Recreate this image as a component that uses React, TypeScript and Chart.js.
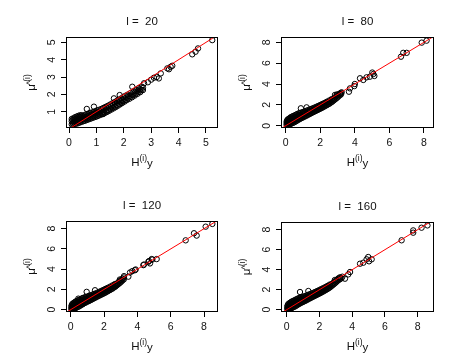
import React, { useEffect, useRef } from 'react';
import { Chart, registerables } from 'chart.js';

Chart.register(...registerables);

const FONT = '"Liberation Sans", Arial, Helvetica, sans-serif';

// ---------- data ----------
const TITLES = ['l =  20', 'l =  80', 'l =  120', 'l =  160'];

const X_TICKS_L20 = [0, 1, 2, 3, 4, 5];
const Y_TICKS_L20 = [1, 2, 3, 4, 5];
const TICKS_0_8 = [0, 2, 4, 6, 8];

const X_RANGE_L20 = [-0.11, 5.44];
const Y_RANGE_L20 = [0.06, 5.31];
const X_RANGE_L80 = [-0.27, 8.58];
const Y_RANGE_L80 = [-0.22, 8.51];
const X_RANGE_L120 = [-0.28, 8.84];
const Y_RANGE_L120 = [-0.23, 8.76];
const X_RANGE_L160 = [-0.35, 9.0];
const Y_RANGE_L160 = [-0.23, 8.77];

// reference line y = x
const IDENTITY_LINE = [-1, 10];

const POINTS_L20 = [
  [0.10,0.27],[0.10,0.45],[0.10,0.58],[0.13,0.33],[0.13,0.52],[0.16,0.28],[0.16,0.41],[0.16,0.62],[0.19,0.36],[0.19,0.55],
  [0.22,0.30],[0.22,0.47],[0.22,0.68],[0.25,0.39],[0.25,0.60],[0.28,0.31],[0.28,0.52],[0.28,0.72],[0.31,0.43],[0.31,0.65],
  [0.34,0.35],[0.34,0.56],[0.34,0.76],[0.37,0.47],[0.37,0.69],[0.40,0.38],[0.40,0.60],[0.40,0.79],[0.43,0.50],[0.43,0.72],
  [0.46,0.42],[0.46,0.63],[0.46,0.80],[0.49,0.54],[0.49,0.74],[0.52,0.45],[0.52,0.66],[0.55,0.57],[0.55,0.78],[0.58,0.48],
  [0.58,0.69],[0.61,0.60],[0.61,0.84],[0.64,0.52],[0.64,0.72],[0.67,0.63],[0.67,0.86],[0.70,0.55],[0.70,0.76],[0.73,0.67],
  [0.73,0.90],[0.76,0.59],[0.76,0.80],[0.79,0.70],[0.79,0.93],[0.82,0.62],[0.82,0.83],[0.85,0.73],[0.85,0.96],[0.88,0.66],
  [0.88,0.86],[0.91,0.77],[0.91,0.99],[0.94,0.69],[0.94,0.90],[0.97,0.80],[0.97,1.03],[1.00,0.72],[1.00,0.93],[1.03,0.84],
  [1.03,1.07],[1.06,0.76],[1.06,0.97],[1.10,0.88],[1.10,1.11],[1.14,0.81],[1.14,1.02],[1.18,0.93],[1.18,1.16],[1.22,0.86],
  [1.22,1.07],[1.26,0.98],[1.26,1.22],[1.30,0.92],[1.30,1.13],[1.34,1.04],[1.34,1.28],[1.38,0.98],[1.38,1.19],[1.42,1.10],
  [1.42,1.34],[1.46,1.05],[1.46,1.25],[1.50,1.17],[1.50,1.41],[1.54,1.12],[1.54,1.32],[1.58,1.24],[1.58,1.48],[1.62,1.19],
  [1.62,1.39],[1.66,1.31],[1.66,1.55],[1.70,1.26],[1.70,1.46],[1.74,1.38],[1.74,1.62],[1.78,1.34],[1.78,1.53],[1.82,1.46],
  [1.82,1.69],[1.86,1.42],[1.86,1.60],[1.90,1.53],[1.90,1.76],[1.94,1.50],[1.94,1.67],[1.98,1.61],[1.98,1.84],[2.02,1.58],
  [2.02,1.75],[2.06,1.69],[2.06,1.92],[2.10,1.66],[2.10,1.83],[2.15,1.77],[2.15,1.99],[2.20,1.74],[2.20,1.91],[2.25,1.86],
  [2.25,2.08],[2.30,1.83],[2.30,2.00],[2.35,1.95],[2.35,2.17],[2.40,1.93],[2.40,2.10],[2.45,2.05],[2.45,2.27],[2.50,2.03],
  [2.50,2.20],[2.55,2.15],[2.55,2.36],[2.60,2.13],[2.60,2.30],[2.65,2.26],[2.65,2.45],[2.70,2.25],[2.70,2.40],
  [0.65,1.16],[0.91,1.29],[1.25,0.87],[1.64,1.77],[1.85,1.96],[2.31,2.44],[2.74,2.64],[2.88,2.70],[3.00,2.85],[3.10,2.96],
  [3.20,3.00],[3.28,2.92],[3.35,3.21],[3.59,3.50],[3.65,3.45],[3.71,3.59],[3.77,3.65],[4.50,4.31],[4.62,4.46],[4.71,4.65],[5.23,5.13],
];

const POINTS_L80 = [
  [0.05,0.10],[0.05,0.35],[0.08,0.22],[0.08,0.48],[0.11,0.05],[0.11,0.30],[0.11,0.58],[0.14,0.18],[0.14,0.44],[0.17,0.08],
  [0.17,0.35],[0.17,0.66],[0.20,0.25],[0.20,0.52],[0.23,0.12],[0.23,0.40],[0.23,0.72],[0.26,0.30],[0.26,0.60],[0.29,0.18],
  [0.29,0.48],[0.29,0.80],[0.32,0.36],[0.32,0.66],[0.35,0.22],[0.35,0.55],[0.35,0.86],[0.39,0.42],[0.39,0.72],[0.43,0.28],
  [0.43,0.62],[0.43,0.92],[0.47,0.48],[0.47,0.78],[0.51,0.34],[0.51,0.68],[0.51,0.98],[0.55,0.55],[0.55,0.84],[0.59,0.42],
  [0.59,0.74],[0.59,1.05],[0.63,0.60],[0.63,0.90],[0.67,0.50],[0.67,0.80],[0.67,1.12],[0.71,0.66],[0.71,0.96],[0.75,0.58],
  [0.75,0.86],[0.75,1.18],[0.79,0.72],[0.79,1.02],[0.83,0.66],[0.83,0.92],[0.83,1.22],[0.87,0.78],[0.87,1.08],[0.91,0.72],
  [0.91,0.98],[0.91,1.27],[0.96,0.85],[0.96,1.14],[1.01,0.80],[1.01,1.04],[1.01,1.32],[1.06,0.92],[1.06,1.20],[1.11,0.88],
  [1.11,1.12],[1.11,1.38],[1.16,1.00],[1.16,1.26],[1.21,0.96],[1.21,1.20],[1.21,1.44],[1.26,1.08],[1.26,1.33],[1.31,1.05],
  [1.31,1.28],[1.31,1.50],[1.36,1.16],[1.36,1.40],[1.41,1.14],[1.41,1.36],[1.41,1.57],[1.46,1.24],[1.46,1.47],[1.51,1.22],
  [1.51,1.44],[1.51,1.63],[1.57,1.33],[1.57,1.55],[1.63,1.32],[1.63,1.52],[1.63,1.71],[1.69,1.42],[1.69,1.64],[1.75,1.42],
  [1.75,1.60],[1.75,1.80],[1.81,1.51],[1.81,1.73],[1.87,1.52],[1.87,1.70],[1.87,1.89],[1.93,1.60],[1.93,1.82],[1.99,1.62],
  [1.99,1.80],[1.99,1.98],[2.05,1.70],[2.05,1.92],[2.11,1.72],[2.11,1.90],[2.11,2.08],[2.17,1.81],[2.17,2.02],[2.24,1.84],
  [2.24,2.02],[2.24,2.18],[2.31,1.93],[2.31,2.13],[2.38,1.97],[2.38,2.15],[2.38,2.30],[2.45,2.06],[2.45,2.26],[2.52,2.10],
  [2.52,2.28],[2.52,2.42],[2.59,2.20],[2.59,2.39],[2.66,2.26],[2.66,2.44],[2.66,2.55],[2.73,2.36],[2.73,2.53],[2.80,2.45],
  [2.80,2.62],[2.88,2.55],[2.88,2.74],[2.96,2.66],[2.96,2.85],[2.96,3.00],[3.04,2.78],[3.04,2.96],[3.12,2.90],[3.12,3.08],
  [3.20,3.00],[3.20,3.15],
  [0.88,1.67],[1.21,1.76],[2.85,2.95],[3.14,3.04],[3.24,3.20],[3.66,3.26],[3.72,3.58],[3.97,3.80],[4.00,4.00],[4.30,4.55],
  [4.49,4.39],[4.68,4.64],[4.87,4.70],[5.01,5.10],[5.07,4.96],[5.13,4.77],[6.67,6.62],[6.80,6.99],[7.00,6.99],[7.87,7.97],[8.15,8.16],
];

const POINTS_L120 = [
  [0.04,0.06],[0.04,0.32],[0.07,0.18],[0.07,0.45],[0.10,0.02],[0.10,0.28],[0.10,0.56],[0.13,0.14],[0.13,0.40],[0.16,0.06],
  [0.16,0.33],[0.16,0.64],[0.19,0.22],[0.19,0.50],[0.22,0.10],[0.22,0.38],[0.22,0.70],[0.25,0.27],[0.25,0.58],[0.28,0.15],
  [0.28,0.46],[0.28,0.78],[0.31,0.34],[0.31,0.64],[0.34,0.20],[0.34,0.53],[0.34,0.84],[0.38,0.40],[0.38,0.70],[0.42,0.26],
  [0.42,0.60],[0.42,0.90],[0.46,0.46],[0.46,0.76],[0.50,0.32],[0.50,0.66],[0.50,0.96],[0.54,0.53],[0.54,0.82],[0.58,0.40],
  [0.58,0.72],[0.58,1.03],[0.62,0.58],[0.62,0.88],[0.66,0.48],[0.66,0.78],[0.66,1.10],[0.70,0.64],[0.70,0.94],[0.74,0.56],
  [0.74,0.84],[0.74,1.16],[0.78,0.70],[0.78,1.00],[0.82,0.64],[0.82,0.90],[0.82,1.20],[0.86,0.76],[0.86,1.06],[0.90,0.70],
  [0.90,0.96],[0.90,1.25],[0.95,0.83],[0.95,1.12],[1.00,0.78],[1.00,1.02],[1.00,1.30],[1.05,0.90],[1.05,1.18],[1.10,0.86],
  [1.10,1.10],[1.10,1.36],[1.15,0.98],[1.15,1.24],[1.20,0.94],[1.20,1.18],[1.20,1.42],[1.25,1.06],[1.25,1.31],[1.30,1.03],
  [1.30,1.26],[1.30,1.48],[1.35,1.14],[1.35,1.38],[1.40,1.12],[1.40,1.34],[1.40,1.55],[1.45,1.22],[1.45,1.45],[1.50,1.20],
  [1.50,1.42],[1.50,1.61],[1.56,1.31],[1.56,1.53],[1.62,1.30],[1.62,1.50],[1.62,1.69],[1.68,1.40],[1.68,1.62],[1.74,1.40],
  [1.74,1.58],[1.74,1.78],[1.80,1.49],[1.80,1.71],[1.86,1.50],[1.86,1.68],[1.86,1.87],[1.92,1.58],[1.92,1.80],[1.98,1.60],
  [1.98,1.78],[1.98,1.96],[2.04,1.68],[2.04,1.90],[2.10,1.70],[2.10,1.88],[2.10,2.06],[2.16,1.79],[2.16,2.00],[2.23,1.82],
  [2.23,2.00],[2.23,2.16],[2.30,1.91],[2.30,2.11],[2.37,1.95],[2.37,2.13],[2.37,2.28],[2.44,2.04],[2.44,2.24],[2.51,2.08],
  [2.51,2.26],[2.51,2.40],[2.58,2.18],[2.58,2.37],[2.65,2.24],[2.65,2.42],[2.65,2.53],[2.72,2.34],[2.72,2.51],[2.79,2.43],
  [2.79,2.60],[2.87,2.53],[2.87,2.72],[2.95,2.64],[2.95,2.83],[2.95,2.98],[3.03,2.76],[3.03,2.94],[3.11,2.88],[3.11,3.06],
  [3.19,3.00],[3.19,3.18],
  [0.46,1.09],[0.96,1.76],[1.46,1.92],[3.20,3.31],[3.46,3.26],[3.56,3.67],[3.70,3.81],[3.86,3.90],[3.90,3.97],[4.36,4.40],
  [4.40,4.46],[4.66,4.73],[4.70,4.80],[4.76,4.57],[4.86,5.00],[4.90,4.95],[5.16,5.00],[6.90,6.85],[7.40,7.55],[7.56,7.32],[8.10,8.20],[8.50,8.47],
];

const POINTS_L160 = [
  [0.03,0.04],[0.03,0.30],[0.06,0.16],[0.06,0.44],[0.09,0.00],[0.09,0.26],[0.09,0.55],[0.12,0.12],[0.12,0.38],[0.15,0.05],
  [0.15,0.32],[0.15,0.63],[0.18,0.20],[0.18,0.49],[0.21,0.08],[0.21,0.37],[0.21,0.69],[0.24,0.26],[0.24,0.57],[0.27,0.14],
  [0.27,0.45],[0.27,0.77],[0.30,0.33],[0.30,0.63],[0.33,0.19],[0.33,0.52],[0.33,0.83],[0.37,0.39],[0.37,0.69],[0.41,0.25],
  [0.41,0.59],[0.41,0.89],[0.45,0.45],[0.45,0.75],[0.49,0.31],[0.49,0.65],[0.49,0.95],[0.53,0.52],[0.53,0.81],[0.57,0.39],
  [0.57,0.71],[0.57,1.02],[0.61,0.57],[0.61,0.87],[0.65,0.47],[0.65,0.77],[0.65,1.09],[0.69,0.63],[0.69,0.93],[0.73,0.55],
  [0.73,0.83],[0.73,1.15],[0.77,0.69],[0.77,0.99],[0.81,0.63],[0.81,0.89],[0.81,1.19],[0.85,0.75],[0.85,1.05],[0.89,0.69],
  [0.89,0.95],[0.89,1.24],[0.94,0.82],[0.94,1.11],[0.99,0.77],[0.99,1.01],[0.99,1.29],[1.04,0.89],[1.04,1.17],[1.09,0.85],
  [1.09,1.09],[1.09,1.35],[1.14,0.97],[1.14,1.23],[1.19,0.93],[1.19,1.17],[1.19,1.41],[1.24,1.05],[1.24,1.30],[1.29,1.02],
  [1.29,1.25],[1.29,1.47],[1.34,1.13],[1.34,1.37],[1.39,1.11],[1.39,1.33],[1.39,1.54],[1.44,1.21],[1.44,1.44],[1.49,1.19],
  [1.49,1.41],[1.49,1.60],[1.55,1.30],[1.55,1.52],[1.61,1.29],[1.61,1.49],[1.61,1.68],[1.67,1.39],[1.67,1.61],[1.73,1.39],
  [1.73,1.57],[1.73,1.77],[1.79,1.48],[1.79,1.70],[1.85,1.49],[1.85,1.67],[1.85,1.86],[1.91,1.57],[1.91,1.79],[1.97,1.59],
  [1.97,1.77],[1.97,1.95],[2.03,1.67],[2.03,1.89],[2.09,1.69],[2.09,1.87],[2.09,2.05],[2.15,1.78],[2.15,1.99],[2.22,1.81],
  [2.22,1.99],[2.22,2.15],[2.29,1.90],[2.29,2.10],[2.36,1.94],[2.36,2.12],[2.36,2.27],[2.43,2.03],[2.43,2.23],[2.50,2.07],
  [2.50,2.25],[2.50,2.39],[2.57,2.17],[2.57,2.36],[2.64,2.23],[2.64,2.41],[2.64,2.52],[2.71,2.33],[2.71,2.50],[2.78,2.42],
  [2.78,2.59],[2.86,2.52],[2.86,2.71],[2.94,2.63],[2.94,2.82],[2.94,2.97],[3.02,2.75],[3.02,2.93],[3.10,2.87],[3.10,3.05],
  [3.18,2.98],[3.18,3.16],[3.26,3.06],[3.26,3.24],[3.34,3.14],[3.40,3.30],
  [0.81,1.77],[1.32,1.87],[3.56,3.10],[3.76,3.53],[3.87,3.77],[4.48,4.60],[4.68,4.70],[4.88,5.04],[4.98,5.27],[5.03,4.84],
  [5.19,5.04],[7.02,6.94],[7.73,7.70],[7.73,7.93],[8.24,8.20],[8.60,8.43],
];

// ---------- layout (pixels) ----------
const Y_AXIS_W = 40;
const X_AXIS_H = 30;

const PANELS = [
  { title: TITLES[0], points: POINTS_L20, xRange: X_RANGE_L20, yRange: Y_RANGE_L20, xTicks: X_TICKS_L20, yTicks: Y_TICKS_L20,
    cell: { left: 0, top: 0, w: 235, h: 182 }, box: { left: 66, top: 37, right: 218, bottom: 128 } },
  { title: TITLES[1], points: POINTS_L80, xRange: X_RANGE_L80, yRange: Y_RANGE_L80, xTicks: TICKS_0_8, yTicks: TICKS_0_8,
    cell: { left: 235, top: 0, w: 234, h: 182 }, box: { left: 46, top: 37, right: 199, bottom: 128 } },
  { title: TITLES[2], points: POINTS_L120, xRange: X_RANGE_L120, yRange: Y_RANGE_L120, xTicks: TICKS_0_8, yTicks: TICKS_0_8,
    cell: { left: 0, top: 182, w: 235, h: 182 }, box: { left: 66, top: 39, right: 218, bottom: 130 } },
  { title: TITLES[3], points: POINTS_L160, xRange: X_RANGE_L160, yRange: Y_RANGE_L160, xTicks: TICKS_0_8, yTicks: TICKS_0_8,
    cell: { left: 235, top: 182, w: 234, h: 182 }, box: { left: 46, top: 40, right: 199, bottom: 130 } },
];

const panelDecor = {
  id: 'panelDecor',
  afterDraw(chart: any, _args: any, opts: any) {
    const { ctx, chartArea: a } = chart;
    ctx.save();
    // box
    ctx.strokeStyle = '#000';
    ctx.lineWidth = 1;
    ctx.strokeRect(a.left + 0.5, a.top + 0.5, a.right - a.left - 1, a.bottom - a.top - 1);

    ctx.fillStyle = '#111';
    // main title
    ctx.font = `11.5px ${FONT}`;
    ctx.textAlign = 'center';
    ctx.textBaseline = 'middle';
    ctx.fillText(opts.title, (a.left + a.right) / 2, a.top - 15);

    // x axis title: H^(i) y
    ctx.textAlign = 'left';
    ctx.textBaseline = 'alphabetic';
    const big = `11.5px ${FONT}`;
    const small = `8.5px ${FONT}`;
    ctx.font = big;
    const wH = ctx.measureText('H').width;
    const wy = ctx.measureText('y').width;
    ctx.font = small;
    const wi = ctx.measureText('(i)').width;
    const total = wH + wi + wy;
    let x0 = (a.left + a.right) / 2 - total / 2;
    const base = a.bottom + 38;
    ctx.font = big;
    ctx.fillText('H', x0, base);
    x0 += wH;
    ctx.font = small;
    ctx.fillText('(i)', x0, base - 5);
    x0 += wi;
    ctx.font = big;
    ctx.fillText('y', x0, base + 1);

    // y axis title: mu-hat ^(i)
    ctx.save();
    ctx.translate(a.left - 31, (a.top + a.bottom) / 2);
    ctx.rotate(-Math.PI / 2);
    ctx.font = big;
    const wmu = ctx.measureText('\u03bc').width;
    ctx.font = small;
    const what = ctx.measureText('^').width;
    const wi2 = ctx.measureText('(i)').width;
    const tot2 = wmu + what * 0.6 + wi2;
    let u = -tot2 / 2;
    ctx.font = big;
    ctx.fillText('\u03bc', u, 0);
    u += wmu - what * 0.2;
    ctx.font = small;
    ctx.fillText('^', u, -2);
    u += what * 0.8;
    ctx.fillText('(i)', u, -5);
    ctx.restore();

    ctx.restore();
  },
};

function Panel({ p }: { p: any }) {
  const ref = useRef<HTMLCanvasElement | null>(null);
  useEffect(() => {
    if (!ref.current) return;
    const pts = p.points.map((d: number[]) => ({ x: d[0], y: d[1] }));
    const line = IDENTITY_LINE.map((v) => ({ x: v, y: v }));
    const chart = new Chart(ref.current, {
      type: 'scatter',
      data: {
        datasets: [
          {
            data: line,
            showLine: true,
            borderColor: '#ff0000',
            borderWidth: 1,
            pointRadius: 0,
            pointHoverRadius: 0,
            order: 0,
          } as any,
          {
            data: pts,
            pointRadius: 2.7,
            pointHoverRadius: 2.7,
            pointBorderWidth: 1,
            pointBorderColor: '#000',
            pointBackgroundColor: 'rgba(0,0,0,0)',
            order: 1,
          } as any,
        ],
      },
      options: {
        responsive: false,
        animation: false,
        devicePixelRatio: 1,
        events: [],
        layout: {
          padding: {
            left: p.box.left - Y_AXIS_W,
            top: p.box.top,
            right: p.cell.w - p.box.right,
            bottom: p.cell.h - p.box.bottom - X_AXIS_H,
          },
        },
        plugins: {
          legend: { display: false },
          tooltip: { enabled: false },
          title: { display: false },
          panelDecor: { title: p.title },
        } as any,
        scales: {
          x: {
            type: 'linear',
            position: 'bottom',
            min: p.xRange[0],
            max: p.xRange[1],
            afterBuildTicks: (s: any) => { s.ticks = p.xTicks.map((v: number) => ({ value: v })); },
            afterFit: (s: any) => { s.height = X_AXIS_H; },
            border: { display: false },
            grid: { display: true, drawOnChartArea: false, drawTicks: true, tickLength: 5, tickColor: '#000', tickWidth: 1, color: '#000' },
            ticks: {
              autoSkip: false, minRotation: 0, maxRotation: 0, padding: 4, color: '#111',
              font: { family: FONT, size: 10.5 },
              callback: (v: any) => String(v),
            },
          },
          y: {
            type: 'linear',
            position: 'left',
            min: p.yRange[0],
            max: p.yRange[1],
            afterBuildTicks: (s: any) => { s.ticks = p.yTicks.map((v: number) => ({ value: v })); },
            afterFit: (s: any) => { s.width = Y_AXIS_W; },
            border: { display: false },
            grid: { display: true, drawOnChartArea: false, drawTicks: true, tickLength: 5, tickColor: '#000', tickWidth: 1, color: '#000' },
            ticks: {
              autoSkip: false, minRotation: 90, maxRotation: 90, crossAlign: 'center', padding: 6, color: '#111',
              font: { family: FONT, size: 10.5 },
              callback: (v: any) => String(v),
            },
          },
        } as any,
      },
      plugins: [panelDecor as any],
    });
    return () => chart.destroy();
  }, [p]);
  return (
    <canvas
      ref={ref}
      width={p.cell.w}
      height={p.cell.h}
      style={{ position: 'absolute', left: p.cell.left, top: p.cell.top, width: p.cell.w, height: p.cell.h }}
    />
  );
}

export default function App() {
  return (
    <div style={{ position: 'absolute', left: 0, top: 0, width: 469, height: 364, background: '#fff', overflow: 'hidden' }}>
      {PANELS.map((p, i) => (
        <Panel key={i} p={p} />
      ))}
    </div>
  );
}
